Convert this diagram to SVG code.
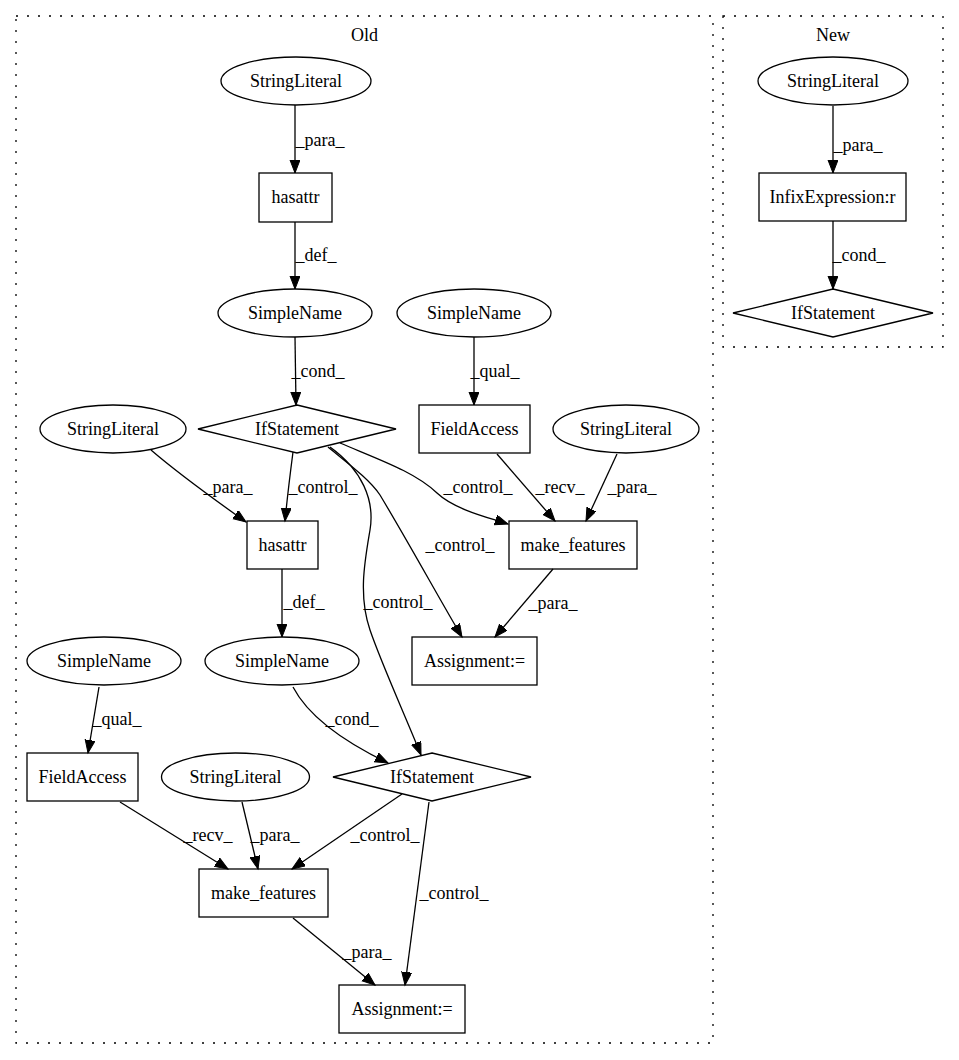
<svg xmlns="http://www.w3.org/2000/svg" width="959" height="1060" viewBox="0 0 959 1060">
<defs>
<style>
text{font-family:"Liberation Serif","Times New Roman",serif;font-size:18px;fill:#000;text-anchor:middle}
.n{fill:none;stroke:#000;stroke-width:1.3}
.c{fill:none;stroke:#000;stroke-width:1.3;stroke-dasharray:2,9}
.e{fill:none;stroke:#000;stroke-width:1.3;marker-end:url(#ah)}
</style>
<marker id="ah" markerUnits="userSpaceOnUse" markerWidth="15" markerHeight="12" refX="13" refY="5" orient="auto">
<path d="M0,0 L13,5 L0,10 z" fill="#000" stroke="#000" stroke-width="1"/>
</marker>
</defs>
<rect width="959" height="1060" fill="#fff"/>
<g id="cluster_old">
<rect class="c" x="16" y="16" width="697" height="1027"/>
<text x="364.5" y="41">Old</text>
</g>
<g id="cluster_new">
<rect class="c" x="723" y="16" width="220" height="331"/>
<text x="833" y="41">New</text>
</g>
<g id="connectors">
<path class="e" d="M295,105 L295,173"/><text x="320" y="146">_para_</text>
<path class="e" d="M295,222 L295,289"/><text x="316" y="261">_def_</text>
<path class="e" d="M295,337 L296,405"/><text x="318" y="377">_cond_</text>
<path class="e" d="M474,337 L474,405"/><text x="495" y="377">_qual_</text>
<path class="e" d="M293,452 C290,475 287,500 285,521"/><text x="323" y="493">_control_</text>
<path class="e" d="M151,450 C180,475 215,500 246,522"/><text x="228" y="493">_para_</text>
<path class="e" d="M340,443 C380,460 415,472 437,493 C455,510 490,518 508,524"/><text x="478" y="493">_control_</text>
<path class="e" d="M328,447 C350,465 370,480 380,495 C410,545 440,600 462,637"/><text x="460" y="551">_control_</text>
<path class="e" d="M330,447 C362,470 375,500 370,530 C365,560 358,595 370,630 C382,665 405,715 421,755"/><text x="398" y="608">_control_</text>
<path class="e" d="M497,454 L555,521"/><text x="560" y="493">_recv_</text>
<path class="e" d="M617,454 L586,521"/><text x="632" y="493">_para_</text>
<path class="e" d="M553,569 L495,637"/><text x="553" y="609">_para_</text>
<path class="e" d="M282,569 L282,637"/><text x="304" y="608">_def_</text>
<path class="e" d="M293,687 C305,710 330,735 388,763"/><text x="352" y="725">_cond_</text>
<path class="e" d="M99,687 L88,753"/><text x="117" y="725">_qual_</text>
<path class="e" d="M120,802 L228,869"/><text x="208" y="841">_recv_</text>
<path class="e" d="M242,802 L258,869"/><text x="275" y="841">_para_</text>
<path class="e" d="M402,794 L292,869"/><text x="385" y="841">_control_</text>
<path class="e" d="M429,802 L405,985"/><text x="454" y="899">_control_</text>
<path class="e" d="M293,918 L375,985"/><text x="367" y="958">_para_</text>
<path class="e" d="M833,106 L833,173"/><text x="858" y="151">_para_</text>
<path class="e" d="M833,221 L833,289"/><text x="859" y="261">_cond_</text>
</g>
<g id="sl1"><ellipse class="n" cx="296" cy="81" rx="75" ry="24"/><text x="296" y="87">StringLiteral</text></g>
<g id="hasattr1"><rect class="n" x="259" y="173" width="73" height="49"/><text x="295.5" y="203">hasattr</text></g>
<g id="sn1"><ellipse class="n" cx="295" cy="313" rx="77" ry="24"/><text x="295" y="319">SimpleName</text></g>
<g id="if1"><polygon class="n" points="297,405 396,429 297,453 198,429"/><text x="297" y="435">IfStatement</text></g>
<g id="sn2"><ellipse class="n" cx="474" cy="313" rx="77" ry="24"/><text x="474" y="319">SimpleName</text></g>
<g id="fa1"><rect class="n" x="419" y="405" width="111" height="48"/><text x="474.5" y="435">FieldAccess</text></g>
<g id="sl2"><ellipse class="n" cx="626" cy="429" rx="73" ry="24"/><text x="626" y="435">StringLiteral</text></g>
<g id="sl3"><ellipse class="n" cx="113" cy="429" rx="73" ry="24"/><text x="113" y="435">StringLiteral</text></g>
<g id="hasattr2"><rect class="n" x="247" y="521" width="71" height="48"/><text x="282.5" y="551">hasattr</text></g>
<g id="mf1"><rect class="n" x="509" y="521" width="128" height="48"/><text x="573" y="551">make_features</text></g>
<g id="as1"><rect class="n" x="412" y="637" width="125" height="48"/><text x="474.5" y="667">Assignment:=</text></g>
<g id="sn3"><ellipse class="n" cx="282" cy="661" rx="77" ry="24"/><text x="282" y="667">SimpleName</text></g>
<g id="sn4"><ellipse class="n" cx="104" cy="661" rx="77" ry="24"/><text x="104" y="667">SimpleName</text></g>
<g id="fa2"><rect class="n" x="27" y="753" width="111" height="48"/><text x="82.5" y="783">FieldAccess</text></g>
<g id="sl4"><ellipse class="n" cx="235.5" cy="777" rx="74" ry="24"/><text x="235.5" y="783">StringLiteral</text></g>
<g id="if2"><polygon class="n" points="432,753 531,777 432,801 333,777"/><text x="432" y="783">IfStatement</text></g>
<g id="mf2"><rect class="n" x="199" y="869" width="129" height="48"/><text x="263.5" y="899">make_features</text></g>
<g id="as2"><rect class="n" x="339" y="985" width="126" height="48"/><text x="402" y="1015">Assignment:=</text></g>
<g id="sl_new"><ellipse class="n" cx="833" cy="81" rx="75" ry="24"/><text x="833" y="87">StringLiteral</text></g>
<g id="infix_new"><rect class="n" x="759" y="173" width="147" height="48"/><text x="832.5" y="203">InfixExpression:r</text></g>
<g id="if_new"><polygon class="n" points="833,289 933,313 833,337 733,313"/><text x="833" y="319">IfStatement</text></g>
</svg>
